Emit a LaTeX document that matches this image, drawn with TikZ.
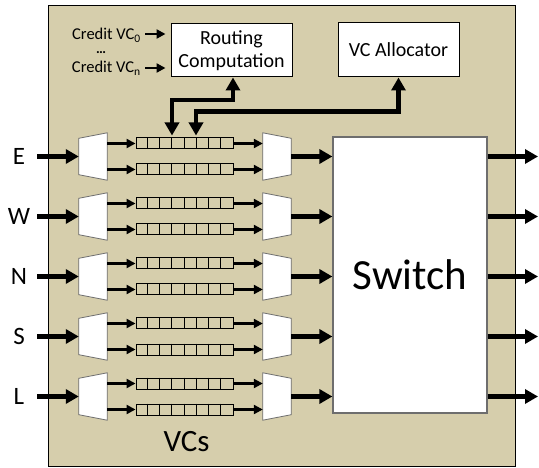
\documentclass[tikz,border=0pt]{standalone}
\usepackage{fontspec}
\setmainfont{Carlito}
\usetikzlibrary{arrows.meta}
\definecolor{tanbg}{RGB}{214,206,172}
\definecolor{edgegray}{RGB}{110,110,110}
\tikzset{
  thickarr/.style={line width=4.6pt, -{Triangle[length=13pt,width=14pt]}},
  thinarr/.style={line width=2.4pt, -{Triangle[length=9pt,width=9pt]}},
  biarr/.style={line width=4.6pt, {Triangle[length=13pt,width=14pt]}-{Triangle[length=13pt,width=14pt]}},
  whitebox/.style={draw=black, fill=white, line width=1pt, inner sep=0pt, align=center, font=\fontsize{20}{24}\selectfont},
  trapbox/.style={minimum width=28pt, minimum height=47pt, inner sep=0pt},
  trapline/.style={draw=edgegray, fill=white, line width=0.8pt},
  bufbox/.style={draw=black, fill=tanbg, line width=1pt, minimum width=97pt, minimum height=11pt, inner sep=0pt},
  portlabel/.style={font=\fontsize{25}{30}\selectfont, inner sep=0pt},
  creditlabel/.style={font=\fontsize{16.5}{20}\selectfont, inner sep=0pt, anchor=east}
}
\begin{document}
\begin{tikzpicture}[x=1pt,y=-1pt]
\useasboundingbox (0,0) rectangle (539,468);
\node[draw=black, fill=tanbg, line width=1.2pt, minimum width=467pt, minimum height=461pt, inner sep=0pt, anchor=north west] (router) at (48,5) {};

% top blocks
\node[whitebox, minimum width=121pt, minimum height=53pt] (rc) at (231.5,50.5) {Routing\\[-1pt]Computation};
\node[whitebox, minimum width=121pt, minimum height=54pt] (vca) at (398.5,50) {VC Allocator};

\node[creditlabel] (cr0) at (141,35.5) {Credit VC\textsubscript{0}};
\node[creditlabel] (crn) at (141,68) {Credit VC\textsubscript{n}};
\node[font=\fontsize{14}{16}\selectfont\bfseries, inner sep=0pt, anchor=base] (dots) at (101,53.5) {…};
\draw[thinarr] ([xshift=4pt,yshift=1.5pt]cr0.east) -- ([xshift=-5pt,yshift=1.5pt]cr0.east -| rc.west);
\draw[thinarr] ([xshift=4pt]crn.east) -- ([xshift=-5pt]crn.east -| rc.west);

% switch
\node[draw=edgegray, fill=white, line width=1.2pt, minimum width=154pt, minimum height=276pt, inner sep=0pt, font=\fontsize{43}{50}\selectfont] (sw) at (410,275) {Switch};

% rows
\foreach \i/\lab in {0/E,1/W,2/N,3/S,4/L}{
  \pgfmathsetmacro{\cy}{156.5+60*\i}
  \node[portlabel] (lab\i) at (19,\cy) {\lab};
  \coordinate (in\i) at (37,\cy);
  \coordinate (out\i) at (538,\cy);
  \node[trapbox] (dm\i) at (93,\cy) {};
  \node[trapbox] (mx\i) at (277,\cy) {};
  \path[trapline] ([yshift=-5.5pt]dm\i.north west) -- (dm\i.north east) -- (dm\i.south east) -- ([yshift=5.5pt]dm\i.south west) -- cycle;
  \path[trapline] (mx\i.north west) -- ([yshift=-5.5pt]mx\i.north east) -- ([yshift=5.5pt]mx\i.south east) -- (mx\i.south west) -- cycle;
  \node[bufbox] (ba\i) at (184.5,\cy-13) {};
  \node[bufbox] (bb\i) at (184.5,\cy+13) {};
  \foreach \k in {1,...,7}{
    \draw[line width=0.9pt] ([xshift={12.125pt*\k}]ba\i.north west) -- ([xshift={12.125pt*\k}]ba\i.south west);
    \draw[line width=0.9pt] ([xshift={12.125pt*\k}]bb\i.north west) -- ([xshift={12.125pt*\k}]bb\i.south west);
  }
  \draw[thickarr] (in\i) -- (dm\i.west);
  \draw[thinarr] (dm\i.east |- ba\i.west) -- (ba\i.west);
  \draw[thinarr] (dm\i.east |- bb\i.west) -- (bb\i.west);
  \draw[thinarr] (ba\i.east) -- (mx\i.west |- ba\i.east);
  \draw[thinarr] (bb\i.east) -- (mx\i.west |- bb\i.east);
  \draw[thickarr] (mx\i.east) -- (sw.west |- mx\i.east);
  \draw[thickarr] (sw.east |- out\i) -- (out\i);
}

% routing / allocation connections
\coordinate (ra) at (172,100);
\coordinate (rb) at (196,111.5);
\draw[biarr] ([yshift=2pt]ra |- ba0.north) -- (ra) -| ([xshift=1.5pt]rc.south);
\draw[biarr] ([yshift=2pt]rb |- ba0.north) -- (rb) -| (vca.south);

\node[font=\fontsize{31}{36}\selectfont, inner sep=0pt] (vcs) at (186.5,442) {VCs};
\end{tikzpicture}
\end{document}
